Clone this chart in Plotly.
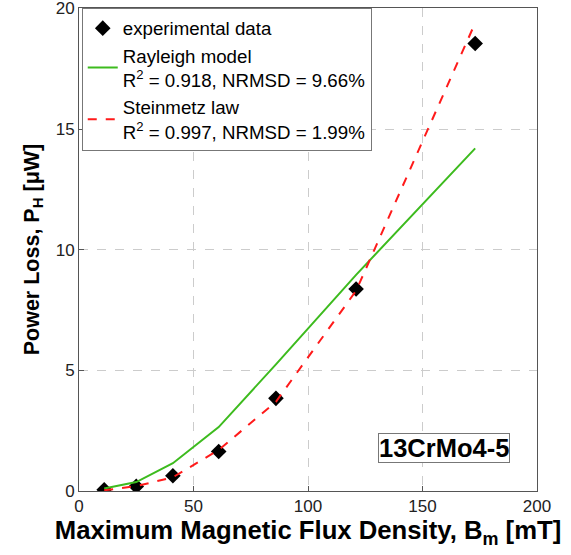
import plotly.graph_objects as go

b_exp = [11, 25, 41, 61, 86, 121, 173]
p_exp = [0.05, 0.19, 0.63, 1.64, 3.84, 8.37, 18.55]
p_rayleigh = [0.1, 0.37, 1.15, 2.65, 5.25, 8.96, 14.2]
p_steinmetz = [0.03, 0.2, 0.57, 1.7, 3.7, 8.3, 19.4]

x_ticks = [0, 50, 100, 150, 200]
y_ticks = [0, 5, 10, 15, 20]

FONT = "Liberation Sans, Arial, sans-serif"

fig = go.Figure()
fig.add_trace(go.Scatter(
    x=b_exp, y=p_exp, mode="markers", name="experimental data",
    marker=dict(symbol="diamond", size=12, color="black"),
))
fig.add_trace(go.Scatter(
    x=b_exp, y=p_rayleigh, mode="lines",
    name="Rayleigh model<br>R<sup>2</sup> = 0.918, NRMSD = 9.66%",
    line=dict(color="#3dbb1e", width=2),
))
fig.add_trace(go.Scatter(
    x=b_exp, y=p_steinmetz, mode="lines",
    name="Steinmetz law<br>R<sup>2</sup> = 0.997, NRMSD = 1.99%",
    line=dict(color="#ff1a1a", width=2, dash="dash"),
))

axis_common = dict(
    showline=True, linecolor="#555555", linewidth=1, mirror=True,
    ticks="inside", ticklen=5, tickcolor="#555555",
    showgrid=True, gridcolor="#cccccc", griddash="dash", gridwidth=1,
    zeroline=False, automargin=False, ticklabeloverflow="allow",
    tickfont=dict(family=FONT, size=17, color="#222222"),
)

fig.update_layout(
    width=571, height=555,
    margin=dict(l=79, r=34, t=8, b=64),
    paper_bgcolor="white", plot_bgcolor="white",
    showlegend=True,
    legend=dict(
        x=0.006, y=0.999, xanchor="left", yanchor="top",
        bgcolor="white", bordercolor="#777777", borderwidth=1,
        font=dict(family=FONT, size=18.7, color="black"),
        itemwidth=30, tracegroupgap=0,
    ),
    xaxis=dict(
        range=[0, 200], tickvals=x_ticks,
        title=dict(text="<b>Maximum Magnetic Flux Density, B<sub>m</sub> [mT]</b>",
                   font=dict(family=FONT, size=25.7, color="black"), standoff=2),
        **axis_common,
    ),
    yaxis=dict(
        range=[0, 20.02], tickvals=y_ticks,
        title=dict(text="<b>Power Loss, P<sub>H</sub> [μW]</b>",
                   font=dict(family=FONT, size=21.5, color="black"), standoff=10),
        **axis_common,
    ),
    annotations=[dict(
        x=159.4, y=1.77, xref="x", yref="y",
        text="<b>13CrMo4-5</b>", showarrow=False,
        font=dict(family=FONT, size=25.5, color="black"),
        bgcolor="white", bordercolor="#777777", borderwidth=1, borderpad=0,
    )],
)

fig.write_html("out.html", config={"displayModeBar": False},
               post_script="document.body.style.margin='0';")
